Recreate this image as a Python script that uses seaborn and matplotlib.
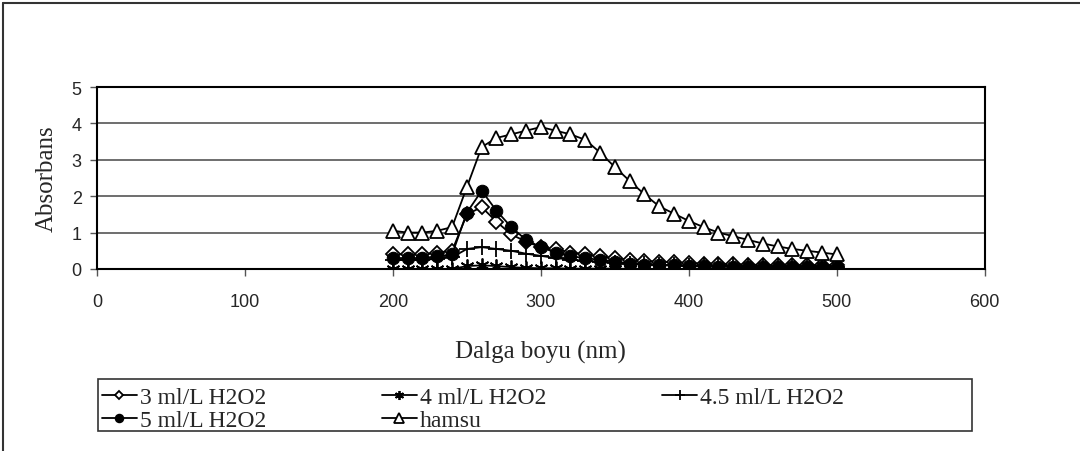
import numpy as np
import pandas as pd
import seaborn as sns
import matplotlib.pyplot as plt
from matplotlib.lines import Line2D
from matplotlib.patches import Rectangle

sns.set_theme(style='white')
plt.rcParams['font.family'] = ['Liberation Serif', 'DejaVu Serif']

# wavelength (nm)
wavelength = list(range(200, 510, 10))

h2o2_3 = [0.40, 0.40, 0.40, 0.45, 0.50, 1.50, 1.70, 1.30, 0.95, 0.75, 0.60,
          0.55, 0.45, 0.40, 0.35, 0.30, 0.25, 0.22, 0.20, 0.18, 0.16, 0.15,
          0.15, 0.13, 0.12, 0.11, 0.10, 0.10, 0.10, 0.10, 0.10]
h2o2_4 = [0.00, 0.00, 0.00, 0.00, 0.00, 0.08, 0.10, 0.08, 0.05, 0.03, 0.02,
          0.02, 0.01, 0.01, 0.01, 0.01, 0.00, 0.00, 0.00, 0.00, 0.00, 0.00,
          0.00, 0.00, 0.00, 0.00, 0.00, 0.00, 0.00, 0.00, 0.00]
h2o2_45 = [0.25, 0.25, 0.25, 0.28, 0.32, 0.55, 0.60, 0.55, 0.50, 0.42, 0.36,
           0.30, 0.26, 0.22, 0.20, 0.17, 0.15, 0.13, 0.11, 0.10, 0.09, 0.08,
           0.07, 0.07, 0.06, 0.06, 0.05, 0.05, 0.05, 0.05, 0.05]
h2o2_5 = [0.30, 0.30, 0.30, 0.35, 0.40, 1.55, 2.15, 1.60, 1.15, 0.80, 0.60,
          0.45, 0.35, 0.30, 0.25, 0.20, 0.15, 0.12, 0.10, 0.10, 0.08, 0.07,
          0.06, 0.06, 0.05, 0.05, 0.05, 0.05, 0.05, 0.05, 0.05]
hamsu = [1.05, 1.00, 1.00, 1.05, 1.15, 2.25, 3.35, 3.60, 3.70, 3.80, 3.90,
         3.80, 3.70, 3.55, 3.20, 2.80, 2.42, 2.05, 1.72, 1.52, 1.32, 1.15,
         1.00, 0.90, 0.80, 0.70, 0.62, 0.55, 0.50, 0.45, 0.40]

series = [
    ('3 ml/L H2O2', h2o2_3, dict(marker='D', markersize=7, markerfacecolor='white', markeredgewidth=1.3)),
    ('4 ml/L H2O2', h2o2_4, dict(marker=(6, 2, 0), markersize=10, markeredgewidth=1.3)),
    ('4.5 ml/L H2O2', h2o2_45, dict(marker='+', markersize=11, markeredgewidth=1.3)),
    ('5 ml/L H2O2', h2o2_5, dict(marker='o', markersize=9, markerfacecolor='black')),
    ('hamsu', hamsu, dict(marker='^', markersize=10, markerfacecolor='white', markeredgewidth=1.3)),
]

fig = plt.figure(figsize=(10.8, 4.52), dpi=100)
ax = fig.add_axes([0.0898, 0.4027, 0.822, 0.4026])

handles = {}
for name, vals, style in series:
    df = pd.DataFrame({'x': wavelength, 'y': vals})
    sns.lineplot(data=df, x='x', y='y', ax=ax, color='black', linewidth=1.3,
                 markeredgecolor='black', legend=False, **style)
    handles[name] = Line2D([], [], color='black', linewidth=1.3, markeredgecolor='black', **style)

ax.set_xlim(0, 600)
ax.set_ylim(0, 5)
ax.set_xticks(range(0, 700, 100))
ax.set_yticks(range(0, 6))
ax.yaxis.grid(True, color='#555555', linewidth=1.2)
ax.set_axisbelow(True)
for s in ax.spines.values():
    s.set_color('black')
    s.set_linewidth(1.5)
ax.tick_params(axis='both', direction='out', length=5, width=1, color='#555555',
               labelsize=13, bottom=True, left=True, pad=6)
for lab in ax.get_xticklabels() + ax.get_yticklabels():
    lab.set_family(['Liberation Sans', 'DejaVu Sans'])
ax.tick_params(axis='x', pad=12)

ax.set_xlabel('Dalga boyu (nm)', fontsize=18, labelpad=22)
ax.set_ylabel('Absorbans', fontsize=18, labelpad=10)

# column-major fill so rows read: 3, 4, 4.5 / 5, hamsu
order = ['3 ml/L H2O2', '5 ml/L H2O2', '4 ml/L H2O2', 'hamsu', '4.5 ml/L H2O2']
leg = fig.legend([handles[k] for k in order], order, ncol=3, loc='upper left',
                 bbox_to_anchor=(0.094, 0.142), frameon=False,
                 fontsize=17, handlelength=1.5, markerscale=0.65,
                 handletextpad=0.12, borderpad=0.0, borderaxespad=0.0,
                 labelspacing=0.05, columnspacing=4.9)

# legend box
fig.add_artist(Rectangle((98 / 1080, 1 - 432 / 452), 874 / 1080, 52 / 452,
                         transform=fig.transFigure, fill=False,
                         edgecolor='#333333', linewidth=1.2))

# outer chart border (top and left visible in the reference)
fig.add_artist(Line2D([0.003, 1.0], [0.991, 0.991], color='#333333', linewidth=1.5, transform=fig.transFigure))
fig.add_artist(Line2D([0.003, 0.003], [0.0, 0.991], color='#333333', linewidth=1.5, transform=fig.transFigure))

fig.savefig('out.png', dpi=100)
